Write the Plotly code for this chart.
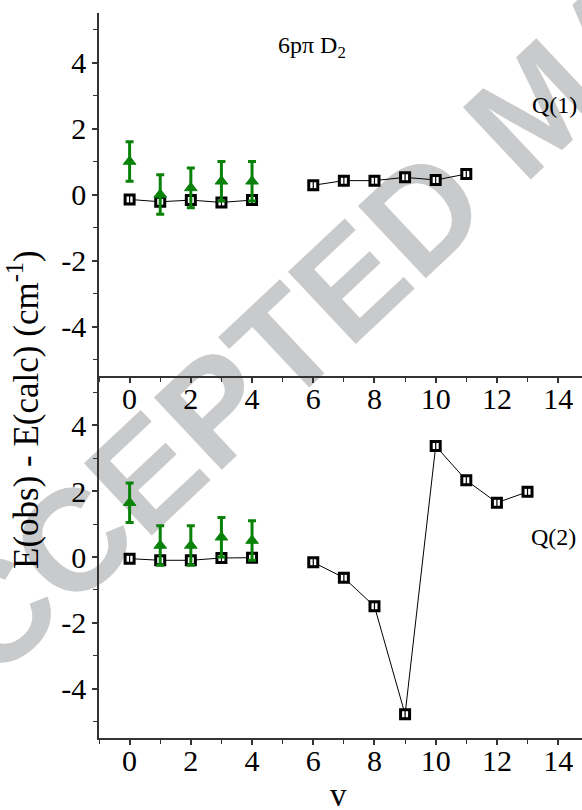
import plotly.graph_objects as go

# vibrational quantum number v
v_low = [0, 1, 2, 3, 4]
v_high_q1 = [6, 7, 8, 9, 10, 11]
v_high_q2 = [6, 7, 8, 9, 10, 11, 12, 13]

# Q(1): residuals of the present fit (squares) and earlier data (triangles)
q1_fit_low = [-0.15, -0.22, -0.17, -0.24, -0.17]
q1_fit_high = [0.28, 0.42, 0.42, 0.52, 0.44, 0.62]
q1_prev = [1.0, 0.0, 0.2, 0.4, 0.4]
q1_prev_err = [0.6, 0.6, 0.6, 0.6, 0.6]

# Q(2)
q2_fit_low = [-0.05, -0.1, -0.1, -0.03, -0.02]
q2_fit_high = [-0.16, -0.63, -1.5, -4.78, 3.37, 2.33, 1.65, 1.98]
q2_prev = [1.65, 0.35, 0.35, 0.6, 0.5]
q2_prev_err = [0.6, 0.6, 0.6, 0.6, 0.6]

fit_err = 0.12
y_ticks = [-4, -2, 0, 2, 4]
y_ticktext = ["-4", "-2", "0", "2", "4"]
x_ticks = [0, 2, 4, 6, 8, 10, 12, 14]

W, H = 582, 810
L, R, T, B = 99, 0, 13, 72
PW, PH = W - L - R, H - T - B


def px(x):
    return (x - L) / PW


def py(y):
    return (H - B - y) / PH


GREEN = "#0a820a"
SERIF = "Liberation Serif, Times New Roman, serif"
fig = go.Figure()


def add_panel(xa, ya, segments, prev, prev_err):
    for xs, ys in segments:
        fig.add_trace(go.Scatter(x=xs, y=ys, mode="lines", xaxis=xa, yaxis=ya,
                                 line=dict(color="black", width=1), hoverinfo="skip"))
    for xs, ys in segments:
        fig.add_trace(go.Scatter(x=xs, y=ys, mode="markers", xaxis=xa, yaxis=ya,
                                 marker=dict(symbol="square", size=9, color="white",
                                             line=dict(color="black", width=3))))
        fig.add_trace(go.Scatter(x=xs, y=ys, mode="markers", xaxis=xa, yaxis=ya,
                                 marker=dict(size=1, opacity=0),
                                 error_y=dict(type="constant", value=fit_err, color="black",
                                              thickness=1.2, width=2.5)))
    fig.add_trace(go.Scatter(x=v_low, y=prev, mode="markers", xaxis=xa, yaxis=ya,
                             marker=dict(symbol="triangle-up", size=11, color=GREEN,
                                         line=dict(color=GREEN, width=1)),
                             error_y=dict(type="data", array=prev_err, color=GREEN,
                                          thickness=3, width=4)))


add_panel("x2", "y2", [(v_low, q1_fit_low), (v_high_q1, q1_fit_high)], q1_prev, q1_prev_err)
add_panel("x", "y", [(v_low, q2_fit_low), (v_high_q2, q2_fit_high)], q2_prev, q2_prev_err)

split = py(376)
axis_common = dict(showline=True, linecolor="#333", linewidth=1.5, ticks="outside",
                   ticklen=5, tickwidth=1.5, tickcolor="#333", showgrid=False,
                   zeroline=False, tickfont=dict(family=SERIF, size=30, color="black"),
                   minor=dict(dtick=1, ticks="outside", ticklen=4, tickwidth=1.2,
                              tickcolor="#333"))
xcfg = dict(axis_common, range=[-1, 14.78], tickmode="array", tickvals=x_ticks,
            ticklabelstandoff=-10)
ycfg = dict(axis_common, range=[-5.5, 5.5], tickmode="array", tickvals=y_ticks,
            ticktext=y_ticktext)
fig.update_layout(
    xaxis=dict(xcfg, anchor="y", domain=[0, 1]),
    yaxis=dict(ycfg, anchor="x", domain=[0, split]),
    xaxis2=dict(xcfg, anchor="y2", domain=[0, 1]),
    yaxis2=dict(ycfg, anchor="x2", domain=[split, 1]),
)

# watermark, drawn beneath the data
cx, cy = 527, 96
fig.add_shape(type="rect", xref="paper", yref="paper",
              x0=px(cx) - 0.01, x1=px(cx) + 0.01, y0=py(cy) - 0.01, y1=py(cy) + 0.01,
              line=dict(width=0), fillcolor="rgba(0,0,0,0)", layer="below",
              label=dict(text="ACCEPTED MANUSCRIPT", textangle=-43.2,
                         textposition="middle center",
                         font=dict(family="Liberation Sans", size=144, color="#c9cacc",
                                   weight="bold")))

txt = dict(family=SERIF, color="black")
annotations = [
    dict(text="6p\u03c0 D<sub>2</sub>", x=px(312), y=py(47), font=dict(txt, size=24)),
    dict(text="Q(1)", x=px(554), y=py(105), font=dict(txt, size=24)),
    dict(text="Q(2)", x=px(553), y=py(537), font=dict(txt, size=24)),
    dict(text="E(obs) - E(calc) (cm<sup>-1</sup>)", x=px(23), y=py(410), textangle=-90,
         font=dict(txt, size=35)),
    dict(text="v", x=px(338), y=py(795), font=dict(txt, size=33)),
]
for a in annotations:
    a.update(xref="paper", yref="paper", showarrow=False, xanchor="center", yanchor="middle")
fig.update_layout(annotations=annotations)

fig.update_layout(width=W, height=H, margin=dict(l=L, r=R, t=T, b=B),
                  paper_bgcolor="white", plot_bgcolor="white", showlegend=False)
fig.write_html("out.html")
